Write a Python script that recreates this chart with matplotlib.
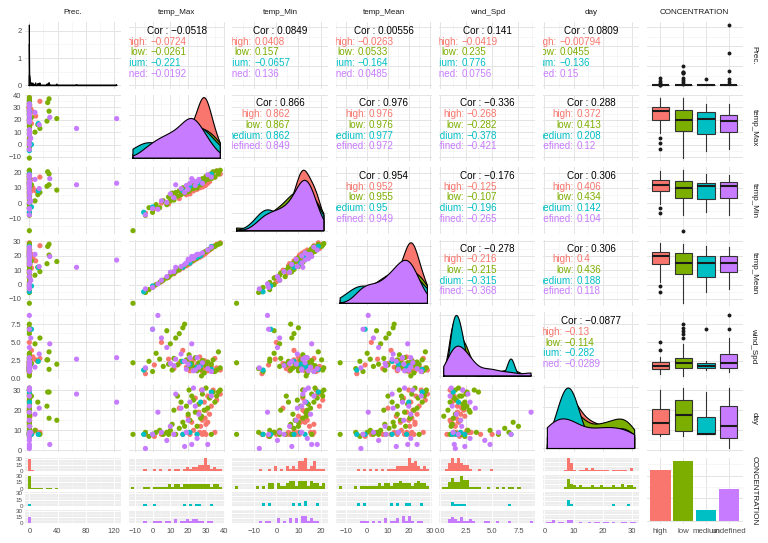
import numpy as np
import matplotlib
matplotlib.use('Agg')
import matplotlib.pyplot as plt
from matplotlib.ticker import MultipleLocator, MaxNLocator, AutoMinorLocator

plt.rcParams['font.family'] = ['Liberation Sans', 'DejaVu Sans']
plt.rcParams['path.simplify'] = False  # keep the narrow Prec. density spike

# ---------------- data ----------------
groups = ['high', 'low', 'medium', 'undefined']
colors = ['#F8766D', '#7CAE00', '#00BFC4', '#C77CFF']
var_labels = ['Prec.', 'temp_Max', 'temp_Min', 'temp_Mean', 'wind_Spd', 'day']

high_prec = [0, 0, 15, 0, 0, 0.5, 0, 0, 0.2, 0, 0, 0, 2, 0, 0, 0.4, 0, 0, 5, 0,
             0, 0.3, 9, 0, 0, 1, 0, 3, 0, 0, 0.6, 0, 0, 0]
high_tmax = [38, 36, 35, 34, 33, 32, 31, 31, 30, 30, 30, 29.5, 29, 29, 28, 28, 27.5, 27, 26.5, 26,
             25, 24, 23, 22, 21, 20, 19, 17, 15, 12, 9, 5, 1, -4]
high_tmin = [19, 21, 17, 18, 19.5, 14, 17.5, 13, 16.5, 12, 17, 11.5, 15.5, 13, 10.5, 14, 12, 15, 10, 13,
             9, 12, 8, 11, 6, 10, 5.5, 8, 3, 4.5, -0.5, 0, -3.5, -6.5]
high_tmean = [29, 28, 27, 26, 25, 24, 23.5, 23, 22.5, 22, 23, 21.5, 21.5, 21, 20.5, 20, 20, 20.5, 19, 19,
              18, 17.5, 16.5, 16, 14.5, 14, 13, 11.5, 10, 7.5, 5, 2, -1, -5]
high_wind = [1.2, 1.5, 2.8, 1.0, 1.7, 2.0, 1.4, 1.1, 1.8, 2.3, 1.3, 1.6, 2.5, 1.2, 1.9, 1.0, 2.2, 1.5, 3.0, 1.7,
             2.0, 1.3, 2.6, 1.8, 1.1, 2.4, 1.6, 3.9, 2.1, 1.4, 2.7, 5.0, 1.9, 0.7]
high_day = [28, 25, 9, 30, 22, 18, 27, 14, 8, 20, 13, 16, 9, 24, 8, 15, 30, 12, 9, 19,
            8, 26, 10, 14, 8, 17, 9, 8, 21, 8, 9, 8, 7, 8]

low_prec = [0, 28, 0, 0, 26, 0, 0.2, 0, 0, 0, 0, 28, 0, 0.5, 0, 0, 3, 39, 0, 0,
            25, 0, 0, 12, 0, 0.3, 15, 0, 0, 8, 0, 0, 0.8, 0, 0, 0, 0, 0, 0, 0]
low_tmax = [38, 37, 36, 35, 34, 33, 32, 31, 30, 29, 28, 27, 26, 25, 24, 23, 22, 21, 20.5, 20,
            19, 18, 17, 16, 15, 14, 13, 12, 11, 10, 9, 8, 6, 4, 2, 0, -2, -4, -11, 27.5]
low_tmin = [21.5, 19, 21, 17, 20.5, 16, 18.5, 15.5, 17.5, 14, 16, 12, 14.5, 10, 13.5, 9.5, 12, 8.5, 12, 7.5,
            11, 6.5, 10, 5.5, 8, 4.5, 7, 2, 6.5, 1.5, 4, -1, 1.5, -3, -1, -6, -3, -8, -18, 13.5]
low_tmean = [28.5, 28, 27.5, 26.5, 26.5, 25, 24.5, 24, 23, 22.5, 21.5, 20.5, 19.5, 18.5, 18, 17, 16.5, 16, 15.5, 14.5,
             14.5, 13, 12.5, 12, 10.5, 10, 9, 8, 8.5, 6.5, 5.5, 4.5, 3, 1.5, 0, -2, -3.5, -5.5, -13, 21]
low_wind = [1.5, 3.7, 1.2, 1.0, 2.6, 2.0, 1.4, 2.3, 1.8, 0.8, 2.5, 1.3, 2.2, 1.1, 2.9, 1.6, 2.1, 2.0, 3.3, 1.5,
            2.6, 7.5, 7.0, 2.4, 6.2, 1.9, 5.6, 2.8, 1.2, 4.8, 2.0, 6.6, 1.7, 2.7, 3.5, 1.0, 2.4, 1.4, 2.2, 0.4]
low_day = [30, 29, 27, 24, 29, 8, 26, 21, 31, 20, 28, 16, 23, 12, 19, 25, 27, 15, 30, 18,
           22, 12, 14, 24, 11, 27, 8, 20, 13, 10, 8, 9, 8, 10, 9, 8, 7, 9, 8, 17]

medium_prec = [0, 0.2, 0, 0.4, 12.6, 0, 3]
medium_tmax = [33, 27, 25, 21, 17, -5, 0]
medium_tmin = [19, 13.5, 13, 11, 8, -6, -2.5]
medium_tmean = [26.5, 20, 19, 15, 12, -5, -1]
medium_wind = [1.3, 1.8, 1.6, 2.0, 2.4, 1.2, 6.8]
medium_day = [29, 24, 8, 9, 8, 8, 8]

undef_prec = [0, 0, 0, 8, 0, 0, 29, 124, 0, 0.2, 0, 14, 67, 0, 0.4, 0, 2, 0, 0, 0, 0.3]
undef_tmax = [33, 31, 28, 26, 25, 24, 22, 21, 20, 19, 18, 16, 13, 12, 10, 8, 5, 3, 0, -4, 23]
undef_tmin = [17, 18.5, 13, 15.5, 14, 11.5, 16, 13, 9, 11.5, 7, 9.5, 12, 3.5, 6, 0.5, 1.5, -4, -3.5, -7.7, 14.5]
undef_tmean = [26, 24, 22, 21, 21, 20, 19.5, 17, 17.6, 15, 14, 12.5, 12, 9, 8.6, 5.5, 3, 0.5, -2, -3, 18]
undef_wind = [1.0, 1.4, 2.2, 1.6, 2.9, 1.2, 4.8, 2.9, 2.0, 1.3, 2.4, 3.4, 2.7, 1.8, 2.1, 4.3, 5.6, 8.7, 6.8, 1.5, 1.1]
undef_day = [27, 3, 30, 18, 6, 22, 3, 24, 15, 9, 2, 21, 28, 8, 12, 5, 9, 19, 8, 1, 31]

# correlations printed in the upper panels, row by row
cor_all = [-0.0518, 0.0849, 0.00556, 0.141, 0.0809, 0.866, 0.976, -0.336, 0.288,
           0.954, -0.176, 0.306, -0.278, 0.306, -0.0877]
cor_high = [-0.0724, 0.0408, -0.0263, -0.0419, -0.00794, 0.862, 0.976, -0.268, 0.372,
            0.952, -0.125, 0.406, -0.216, 0.4, -0.13]
cor_low = [-0.0261, 0.157, 0.0533, 0.235, 0.0455, 0.867, 0.976, -0.282, 0.413,
           0.955, -0.107, 0.434, -0.215, 0.436, -0.114]
cor_medium = [-0.221, -0.0657, -0.164, 0.776, -0.136, 0.862, 0.977, -0.378, 0.208,
              0.95, -0.196, 0.142, -0.315, 0.188, -0.282]
cor_undef = [-0.0192, 0.136, 0.0485, 0.0756, 0.15, 0.849, 0.972, -0.421, 0.12,
             0.949, -0.265, 0.104, -0.368, 0.118, -0.0289]

series = [
    [high_prec, low_prec, medium_prec, undef_prec],
    [high_tmax, low_tmax, medium_tmax, undef_tmax],
    [high_tmin, low_tmin, medium_tmin, undef_tmin],
    [high_tmean, low_tmean, medium_tmean, undef_tmean],
    [high_wind, low_wind, medium_wind, undef_wind],
    [high_day, low_day, medium_day, undef_day],
]
group_cors = [cor_high, cor_low, cor_medium, cor_undef]

# ---------------- layout ----------------
W, H = 768, 543
PANEL_L, PANEL_T = 25, 22
COL_STEP, ROW_STEP = 103.6, 72.6
PANEL_W, PANEL_H = 96, 66.5
FACET_GAP = 3
var_step = [40, 10, 10, 10, 2.5, 10]

fig = plt.figure(figsize=(W / 100, H / 100), dpi=100)
fig.patch.set_facecolor('white')


def rect(left, top, w, h):
    return [left / W, 1 - (top + h) / H, w / W, h / H]


def style(ax, face='white', major='#E4E4E4', minor='#EFEFEF'):
    ax.set_facecolor(face)
    for s in ax.spines.values():
        s.set_visible(False)
    ax.tick_params(which='both', length=0, labelsize=5.5, labelcolor='#4D4D4D', pad=2.5)
    ax.grid(True, which='major', color=major, lw=0.7)
    ax.grid(True, which='minor', color=minor, lw=0.4)
    ax.set_axisbelow(True)
    ax.tick_params(labelleft=False, labelbottom=False)


def var_axis(axis, v):
    axis.set_major_locator(MultipleLocator(var_step[v]))
    axis.set_minor_locator(MultipleLocator(var_step[v] / 2))


def nrd0(x):
    x = np.asarray(x, float)
    hi = x.std(ddof=1)
    q75, q25 = np.percentile(x, [75, 25])
    lo = min(hi, (q75 - q25) / 1.34)
    if lo <= 0:
        lo = hi if hi > 0 else (abs(x[0]) if x[0] != 0 else 1.0)
    return 0.9 * lo * len(x) ** -0.2


def kde(x, grid):
    bw = nrd0(x)
    z = (grid[:, None] - np.asarray(x, float)[None, :]) / bw
    return np.exp(-0.5 * z ** 2).sum(1) / (len(x) * bw * np.sqrt(2 * np.pi))


def fmt(v):
    return f'{v:g}'.replace('-', '\u2212')


all_vals = [np.concatenate([np.asarray(g, float) for g in s]) for s in series]
ranges = [(a.min(), a.max()) for a in all_vals]
lims = [(lo - 0.05 * (hi - lo), hi + 0.05 * (hi - lo)) for lo, hi in ranges]
point_cols = sum([[colors[g]] * len(series[0][g]) for g in range(4)], [])

cor_blocks = []
k_upper = 0
for r in range(7):
    for c in range(7):
        left = PANEL_L + c * COL_STEP
        top = PANEL_T + r * ROW_STEP

        if r == 6 and c < 6:
            # histograms faceted by CONCENTRATION
            lo, hi = ranges[c]
            bw_h = (hi - lo) / 29
            edges = lo - bw_h / 2 + bw_h * np.arange(31)
            cmax = max(np.histogram(series[c][g], bins=edges)[0].max() for g in range(4))
            fh = (PANEL_H - 3 * FACET_GAP) / 4
            for g in range(4):
                sub = fig.add_axes(rect(left, top + g * (fh + FACET_GAP), PANEL_W, fh))
                style(sub, face='#EDEDED', major='white', minor='#F6F6F6')
                sub.hist(series[c][g], bins=edges, color=colors[g], linewidth=0)
                sub.set_xlim(lims[c])
                sub.set_ylim(-0.05 * cmax, 1.05 * cmax)
                var_axis(sub.xaxis, c)
                sub.yaxis.set_major_locator(MaxNLocator(3, integer=True))
                sub.yaxis.set_minor_locator(AutoMinorLocator(2))
                sub.tick_params(axis='y', labelsize=4.5, pad=1.5)
                if c == 0:
                    sub.tick_params(labelleft=True)
                if g == 3:
                    sub.tick_params(labelbottom=True)
            continue

        ax = fig.add_axes(rect(left, top, PANEL_W, PANEL_H))
        style(ax)

        if c == 6 and r < 6:
            # boxplots by group
            bp = ax.boxplot([np.asarray(g, float) for g in series[r]], positions=[1, 2, 3, 4],
                            widths=0.75, patch_artist=True, showcaps=False, whis=1.5,
                            medianprops=dict(color='#1A1A1A', lw=1.5),
                            boxprops=dict(edgecolor='#333333', lw=0.8),
                            whiskerprops=dict(color='#333333', lw=0.8),
                            flierprops=dict(marker='o', markerfacecolor='#1A1A1A',
                                            markeredgecolor='none', markersize=2.8))
            for patch, col in zip(bp['boxes'], colors):
                patch.set_facecolor(col)
            ax.set_xlim(0.4, 4.6)
            ax.set_ylim(lims[r])
            ax.set_xticks([1, 2, 3, 4])
            ax.xaxis.set_minor_locator(plt.NullLocator())
            var_axis(ax.yaxis, r)
        elif r == 6 and c == 6:
            counts = [len(g) for g in series[0]]
            ax.bar([1, 2, 3, 4], counts, width=0.9, color=colors)
            ax.set_xlim(0.4, 4.6)
            ax.set_ylim(-0.05 * max(counts), 1.05 * max(counts))
            ax.set_xticks([1, 2, 3, 4])
            ax.set_xticklabels(groups)
            ax.xaxis.set_minor_locator(plt.NullLocator())
            ax.yaxis.set_major_locator(MaxNLocator(4))
            ax.yaxis.set_minor_locator(AutoMinorLocator(2))
            ax.tick_params(labelbottom=True, labelsize=5.7)
        elif r == c:
            lo, hi = ranges[c]
            grid = np.linspace(lo, hi, 6000)
            dens = [kde(series[c][g], grid) for g in range(4)]
            dmax = max(d.max() for d in dens)
            for g in range(4):
                px = np.r_[grid[0], grid, grid[-1]]
                py = np.r_[0, dens[g], 0]
                ax.fill(px, py, facecolor=colors[g], edgecolor='none', zorder=2 + 2 * g)
                ax.plot(np.r_[px, px[0]], np.r_[py, 0], color='black', lw=0.8,
                        solid_joinstyle='round', zorder=3 + 2 * g)
            ax.set_xlim(lims[c])
            ax.set_ylim(-0.05 * dmax, 1.05 * dmax)
            var_axis(ax.xaxis, c)
            if r == 0:
                ax.yaxis.set_major_locator(MultipleLocator(1))
                ax.yaxis.set_minor_locator(MultipleLocator(0.5))
            else:
                ax.yaxis.set_major_locator(MaxNLocator(4))
                ax.yaxis.set_minor_locator(AutoMinorLocator(2))
        elif r > c:
            x = all_vals[c]
            y = all_vals[r]
            ax.scatter(x, y, c=point_cols, s=14, linewidths=0)
            ax.set_xlim(lims[c])
            ax.set_ylim(lims[r])
            var_axis(ax.xaxis, c)
            var_axis(ax.yaxis, r)
        else:
            ax.set_xlim(lims[c])
            ax.set_ylim(lims[r])
            var_axis(ax.xaxis, c)
            var_axis(ax.yaxis, r)
            line = 10.7 / PANEL_H
            y0 = 0.5 + (2 * 10.7 + 3) / PANEL_H
            ax.text(0.5, y0, 'Cor : ' + fmt(cor_all[k_upper]), transform=ax.transAxes,
                    ha='center', va='center', fontsize=7.1, color='black', clip_on=True)
            labs, vals = [], []
            for g in range(4):
                yy = y0 - (g + 1) * line
                labs.append(ax.text(0.3, yy, groups[g] + ':', transform=ax.transAxes, ha='right',
                                    va='center', fontsize=7.1, color=colors[g], clip_on=True))
                vals.append(ax.text(0.3, yy, fmt(group_cors[g][k_upper]), transform=ax.transAxes,
                                    ha='left', va='center', fontsize=7.1, color=colors[g], clip_on=True))
            cor_blocks.append((labs, vals))
            k_upper += 1

        if c == 0:
            ax.tick_params(labelleft=True)

# strip labels
for c, name in enumerate(var_labels + ['CONCENTRATION']):
    fig.text((PANEL_L + c * COL_STEP + PANEL_W / 2) / W, 1 - 13 / H, name,
             ha='center', va='center', fontsize=5.8, color='#1A1A1A')
    fig.text(754 / W, 1 - (PANEL_T + c * ROW_STEP + PANEL_H / 2) / H, name, rotation=270,
             ha='center', va='center', fontsize=5.8, color='#1A1A1A')

# line up the colons of the per-group correlations
fig.canvas.draw()
renderer = fig.canvas.get_renderer()
for labs, vals in cor_blocks:
    maxw = max(t.get_window_extent(renderer).width for t in vals)
    xv = (58 - maxw) / PANEL_W
    for t in vals:
        t.set_x(xv)
    for t in labs:
        t.set_x(xv - 2.5 / PANEL_W)

fig.savefig('out.png', dpi=100, facecolor='white')
